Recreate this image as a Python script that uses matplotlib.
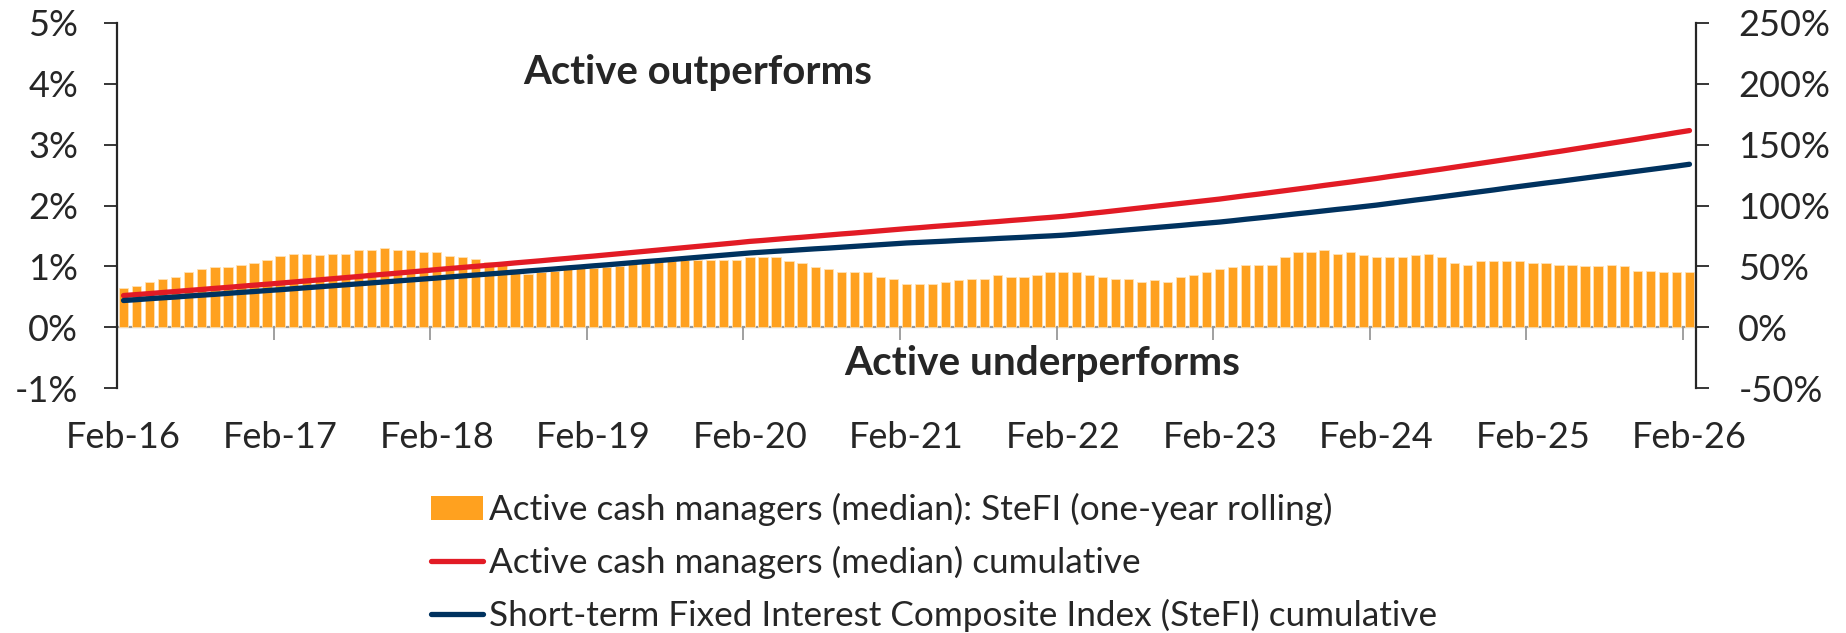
import matplotlib
matplotlib.use("Agg")
import matplotlib.pyplot as plt
from matplotlib.patches import Patch
from matplotlib.lines import Line2D
import numpy as np

plt.rcParams['font.family'] = ['Lato', 'DejaVu Sans']

# one-year rolling excess return of active cash managers over SteFI (%), monthly Feb-16 .. Feb-26
excess_1y = [0.65, 0.68, 0.75, 0.80, 0.83, 0.90, 0.96, 0.99, 0.99, 1.02, 1.06, 1.11, 1.17, 1.21, 1.21, 1.18,
             1.21, 1.21, 1.27, 1.27, 1.30, 1.27, 1.27, 1.24, 1.24, 1.17, 1.15, 1.12, 1.07, 1.02, 0.96, 0.88,
             0.90, 0.93, 0.95, 0.97, 0.98, 0.99, 1.01, 1.04, 1.06, 1.08, 1.09, 1.11, 1.11, 1.11, 1.11, 1.11,
             1.15, 1.15, 1.15, 1.09, 1.06, 0.99, 0.96, 0.90, 0.90, 0.90, 0.83, 0.80, 0.71, 0.71, 0.71, 0.74,
             0.77, 0.80, 0.80, 0.86, 0.83, 0.83, 0.86, 0.90, 0.90, 0.90, 0.86, 0.83, 0.80, 0.80, 0.74, 0.77,
             0.74, 0.83, 0.86, 0.90, 0.96, 0.99, 1.02, 1.02, 1.02, 1.15, 1.24, 1.24, 1.27, 1.21, 1.24, 1.18,
             1.15, 1.15, 1.15, 1.18, 1.21, 1.15, 1.06, 1.02, 1.08, 1.08, 1.08, 1.08, 1.05, 1.05, 1.02, 1.02,
             1.00, 1.00, 1.02, 1.00, 0.93, 0.93, 0.90, 0.90, 0.90]

# cumulative returns (%)
active_cum = [26.0, 26.8, 27.6, 28.5, 29.3, 30.2, 31.0, 31.9, 32.7, 33.6, 34.5, 35.3, 36.2, 37.1, 38.0, 38.9,
              39.8, 40.7, 41.6, 42.6, 43.5, 44.4, 45.4, 46.3, 47.3, 48.2, 49.1, 50.0, 50.9, 51.8, 52.8, 53.7,
              54.6, 55.6, 56.5, 57.5, 58.4, 59.4, 60.4, 61.4, 62.4, 63.4, 64.4, 65.4, 66.4, 67.4, 68.4, 69.4,
              70.5, 71.3, 72.2, 73.1, 73.9, 74.8, 75.7, 76.6, 77.4, 78.3, 79.2, 80.1, 81.0, 81.8, 82.7, 83.5,
              84.3, 85.1, 86.0, 86.8, 87.7, 88.5, 89.4, 90.2, 91.1, 92.2, 93.4, 94.5, 95.7, 96.9, 98.1, 99.3,
              100.5, 101.7, 102.9, 104.1, 105.3, 106.7, 108.1, 109.4, 110.8, 112.2, 113.6, 115.0, 116.5,
              117.9, 119.3, 120.8, 122.2, 123.8, 125.3, 126.8, 128.4, 129.9, 131.5, 133.1, 134.7, 136.3,
              137.9, 139.5, 141.1, 142.8, 144.4, 146.1, 147.8, 149.5, 151.2, 152.9, 154.6, 156.4, 158.1,
              159.9, 161.6]

stefi_cum = [21.9, 22.6, 23.4, 24.1, 24.8, 25.6, 26.3, 27.0, 27.8, 28.6, 29.3, 30.1, 30.8, 31.6, 32.4, 33.2,
             34.0, 34.8, 35.6, 36.4, 37.2, 38.0, 38.8, 39.6, 40.4, 41.3, 42.1, 42.9, 43.7, 44.5, 45.3, 46.2,
             47.0, 47.8, 48.7, 49.5, 50.4, 51.2, 52.1, 53.0, 53.9, 54.7, 55.6, 56.5, 57.4, 58.3, 59.2, 60.1,
             61.0, 61.7, 62.4, 63.0, 63.7, 64.4, 65.0, 65.7, 66.4, 67.1, 67.8, 68.5, 69.2, 69.7, 70.2, 70.7,
             71.3, 71.8, 72.3, 72.9, 73.4, 73.9, 74.5, 75.0, 75.6, 76.4, 77.3, 78.2, 79.1, 80.0, 80.9, 81.8,
             82.7, 83.6, 84.6, 85.5, 86.4, 87.5, 88.7, 89.8, 90.9, 92.1, 93.3, 94.4, 95.6, 96.8, 97.9, 99.1,
             100.3, 101.7, 103.1, 104.5, 105.8, 107.2, 108.6, 110.0, 111.4, 112.8, 114.3, 115.7, 117.1,
             118.5, 119.8, 121.2, 122.6, 124.0, 125.4, 126.8, 128.2, 129.6, 131.0, 132.4, 133.9]

year_labels = ['Feb-16', 'Feb-17', 'Feb-18', 'Feb-19', 'Feb-20', 'Feb-21', 'Feb-22', 'Feb-23',
               'Feb-24', 'Feb-25', 'Feb-26']
left_ticks = [-1, 0, 1, 2, 3, 4, 5]
right_ticks = [-50, 0, 50, 100, 150, 200, 250]

ORANGE = '#FFA11F'
RED = '#E21B25'
NAVY = '#00325F'
DARK = '#262626'
GREY = '#999999'

months = np.arange(len(excess_1y))
label_pos = months[::12]

fig = plt.figure(figsize=(18.46, 6.33), dpi=100)
ax = fig.add_axes([117 / 1846, 1 - 388 / 633, (1696 - 117) / 1846, (388 - 23) / 633])
ax2 = ax.twinx()

ax.bar(months, excess_1y, width=0.71, color=ORANGE, edgecolor='#FFE2B5', linewidth=0.6, zorder=2)
ax2.plot(months, active_cum, color=RED, lw=3.8, solid_capstyle='round', zorder=3)
ax2.plot(months, stefi_cum, color=NAVY, lw=3.8, solid_capstyle='round', zorder=3)

ax.set_xlim(-0.5, len(excess_1y) - 0.5)
ax.set_ylim(-1, 5)
ax2.set_ylim(-50, 250)

ax.set_yticks(left_ticks, [f'{v}%' for v in left_ticks])
ax2.set_yticks(right_ticks, [f'{v}%' for v in right_ticks])

ax.spines['top'].set_visible(False)
ax2.spines['top'].set_visible(False)
ax2.spines['bottom'].set_visible(False)
ax2.spines['left'].set_visible(False)
ax.spines['right'].set_visible(False)
ax.spines['left'].set_color(DARK)
ax.spines['left'].set_linewidth(1.6)
ax2.spines['right'].set_color(DARK)
ax2.spines['right'].set_linewidth(1.6)

# x axis line crosses at 0%, tick marks between categories
ax.spines['bottom'].set_position(('data', 0))
ax.spines['bottom'].set_color(GREY)
ax.spines['bottom'].set_linewidth(1.6)
ax.spines['bottom'].set_zorder(1)
ax.set_xticks(label_pos - 0.5)
ax.tick_params(axis='x', direction='out', length=9.5, width=1.3, color=GREY, labelbottom=False)

ax.tick_params(axis='y', direction='out', length=9.5, width=1.3, color=DARK,
               labelsize=26, labelcolor=DARK, pad=18.5)
ax2.tick_params(axis='y', direction='out', length=9.5, width=1.3, color=DARK,
                labelsize=26, labelcolor=DARK, pad=21)

secax = ax.secondary_xaxis(0)
secax.set_xticks(label_pos, year_labels)
secax.spines['bottom'].set_visible(False)
secax.tick_params(axis='x', length=0, labelsize=26, labelcolor=DARK, pad=24)

ax.text(44, 4.18, 'Active outperforms', fontsize=28.9, fontweight='bold', color=DARK,
        ha='center', va='center', zorder=5)
ax.text(70.4, -0.59, 'Active underperforms', fontsize=29.2, fontweight='bold', color=DARK,
        ha='center', va='center', zorder=5)

handles = [Patch(facecolor=ORANGE, edgecolor='none'),
           Line2D([], [], color=RED, lw=3.8, solid_capstyle='round'),
           Line2D([], [], color=NAVY, lw=3.8, solid_capstyle='round')]
labels = ['Active cash managers (median): SteFI (one-year rolling)',
          'Active cash managers (median) cumulative',
          'Short-term Fixed Interest Composite Index (SteFI) cumulative']
fig.legend(handles, labels, loc='upper left', bbox_to_anchor=(431 / 1846, 1 - 493 / 633),
           frameon=False, fontsize=25.3, handlelength=1.48, handleheight=0.65, handletextpad=0.17,
           labelspacing=0.56, borderpad=0, borderaxespad=0, labelcolor=DARK)

fig.savefig('out.png', dpi=100)
